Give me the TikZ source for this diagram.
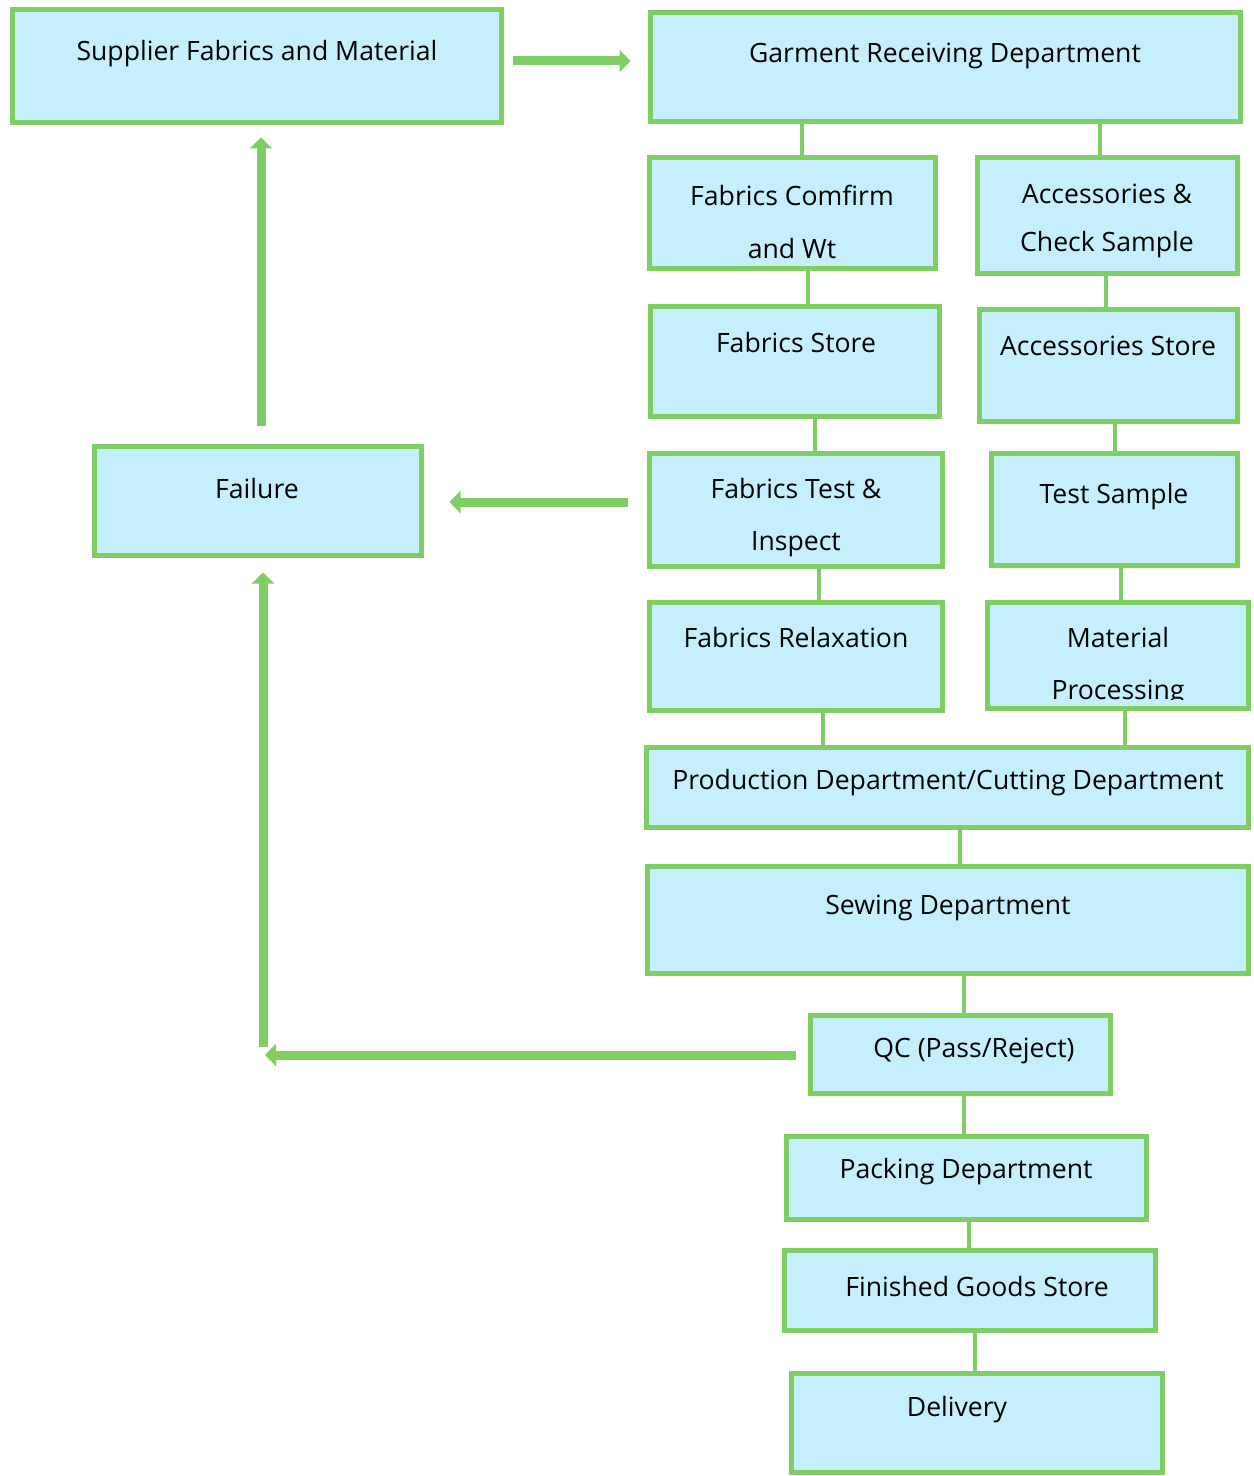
\documentclass[tikz,border=0pt]{standalone}
\usepackage{fontspec}
\setmainfont{Open Sans}
\usetikzlibrary{fit,arrows.meta}
\definecolor{boxfill}{RGB}{197,239,253}
\definecolor{boxline}{RGB}{126,206,100}
\tikzset{
  box/.style={draw=boxline, fill=boxfill, line width=2.5pt, inner sep=0pt, rectangle},
  lbl/.style={inner sep=0pt, yshift=-2pt, font=\fontsize{13.3pt}{15pt}\selectfont, text=black},
  conn/.style={draw=boxline, line width=1.6pt},
  arr/.style={draw=boxline, line width=4.5pt, -{Triangle[length=5.5pt,width=11pt]}},
  bar/.style={draw=boxline, line width=4.5pt}
}
\begin{document}
\begin{tikzpicture}[x=0.5pt,y=-0.5pt]
\useasboundingbox (0,0) rectangle (1253,1476);
% boxes (line centres)
\node[box, fit={(12,10) (501,123)}] (sup) {};
\node[box, fit={(650,13) (1240,122)}] (gr) {};
\node[box, fit={(649,158) (935,269)}] (fc) {};
\node[box, fit={(977,158) (1237,274)}] (ac) {};
\node[box, fit={(650,307) (939,416)}] (fs) {};
\node[box, fit={(979,310) (1237,421)}] (as) {};
\node[box, fit={(649,453) (942,566)}] (ft) {};
\node[box, fit={(991,453) (1237,565)}] (ts) {};
\node[box, fit={(94,446) (421,555)}] (fail) {};
\node[box, fit={(649,602) (942,710)}] (fr) {};
\node[box, fit={(987,602) (1248,708)}] (mp) {};
\node[box, fit={(646,747) (1248,827)}] (pd) {};
\node[box, fit={(647,866) (1248,973)}] (sd) {};
\node[box, fit={(810,1015) (1110,1093)}] (qc) {};
\node[box, fit={(786,1136) (1146,1219)}] (pk) {};
\node[box, fit={(784,1250) (1155,1330)}] (fg) {};
\node[box, fit={(791,1373) (1162,1472)}] (dl) {};
% labels
\node[lbl] (t1) at (257,50) {Supplier Fabrics and Material};
\node[lbl] (t2) at (945,52) {Garment Receiving Department};
\node[lbl] (t3a) at (792,191) {Fabrics Comfirm};
\node[lbl] (t3b) at (792,245) {and Wt};
\node[lbl] (t4a) at (1107,190) {Accessories \&};
\node[lbl] (t4b) at (1107,241) {Check Sample};
\node[lbl] (t5) at (796,339) {Fabrics Store};
\node[lbl] (t6) at (1108,342) {Accessories Store};
\node[lbl] (t7a) at (796,485) {Fabrics Test \&};
\node[lbl] (t7b) at (796,540) {Inspect};
\node[lbl] (t8) at (1114,493) {Test Sample};
\node[lbl] (t9) at (257,485) {Failure};
\node[lbl] (t10) at (796,634) {Fabrics Relaxation};
\node[lbl] (t11a) at (1118,634) {Material};
\begin{scope}
\clip (989,604) rectangle (1246,699);
\node[lbl] (t11b) at (1118,689) {Processing};
\end{scope}
\node[lbl] (t12) at (948,779) {Production Department/Cutting Department};
\node[lbl] (t13) at (948,904) {Sewing Department};
\node[lbl] (t14) at (974,1047) {QC (Pass/Reject)};
\node[lbl] (t15) at (966,1168) {Packing Department};
\node[lbl] (t16) at (977,1283) {Finished Goods Store};
\node[lbl] (t17) at (957,1406) {Delivery};
% thin connectors
\draw[conn] (gr.south -| 802,0) -- (fc.north -| 802,0);
\draw[conn] (gr.south -| 1100,0) -- (ac.north -| 1100,0);
\draw[conn] (fc.south -| 808,0) -- (fs.north -| 808,0);
\draw[conn] (ac.south -| 1106,0) -- (as.north -| 1106,0);
\draw[conn] (fs.south -| 815,0) -- (ft.north -| 815,0);
\draw[conn] (as.south -| 1115,0) -- (ts.north -| 1115,0);
\draw[conn] (ft.south -| 819,0) -- (fr.north -| 819,0);
\draw[conn] (ts.south -| 1121,0) -- (mp.north -| 1121,0);
\draw[conn] (fr.south -| 823,0) -- (pd.north -| 823,0);
\draw[conn] (mp.south -| 1125,0) -- (pd.north -| 1125,0);
\draw[conn] (pd.south -| 960,0) -- (sd.north -| 960,0);
\draw[conn] (sd.south -| 964,0) -- (qc.north -| 964,0);
\draw[conn] (qc.south -| 964,0) -- (pk.north -| 964,0);
\draw[conn] (pk.south -| 969,0) -- ([yshift=-2pt]fg.north -| 969,0);
\draw[conn] ([yshift=1pt]fg.south -| 975,0) -- (dl.north -| 975,0);
% thick arrows
\draw[arr] ([xshift=4.5pt]sup.east |- 0,61) -- ([xshift=-8.5pt]gr.west |- 0,61);
\draw[arr] ([yshift=9pt]fail.north -| 261,0) -- ([yshift=-6pt]sup.south -| 261,0);
\draw[arr] ([xshift=-9.5pt]ft.west |- 0,502) -- ([xshift=13pt]fail.east |- 0,502);
\coordinate (qcend) at (265,1055);
\coordinate (barbot) at (263,1047);
\draw[arr] ([xshift=-6pt]qc.west |- 0,1055) -- (qcend);
\draw[arr] (barbot) -- ([yshift=-7.5pt]fail.south -| 263,0);
\end{tikzpicture}
\end{document}
